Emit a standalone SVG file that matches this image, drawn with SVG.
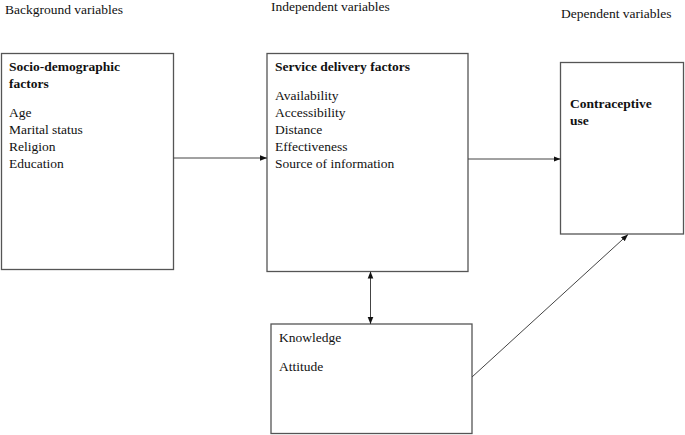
<svg xmlns="http://www.w3.org/2000/svg" width="685" height="435" viewBox="0 0 685 435">
<style>
text{font-family:"Liberation Serif","Times New Roman",serif;font-size:13.5px;fill:#111}
.b{font-weight:bold}
.box{fill:#fff;stroke:#555;stroke-width:1.3}
.ln{stroke:#444;stroke-width:1;fill:none}
</style>
<defs>
<marker id="ah" viewBox="0 0 10 10" refX="10" refY="5" markerWidth="7" markerHeight="7" orient="auto-start-reverse" markerUnits="userSpaceOnUse">
<path d="M0,1 L10,5 L0,9 Z" fill="#111"/>
</marker>
</defs>
<rect width="685" height="435" fill="#fff"/>
<g id="headers">
<text x="5" y="14">Background variables</text>
<text x="271" y="11">Independent variables</text>
<text x="561" y="18">Dependent variables</text>
</g>
<g id="socio">
<rect class="box" x="1.5" y="53.5" width="172" height="216"/>
<text class="b" x="9" y="71">Socio-demographic</text>
<text class="b" x="9" y="88">factors</text>
<text x="9" y="117">Age</text>
<text x="9" y="134">Marital status</text>
<text x="9" y="151">Religion</text>
<text x="9" y="168">Education</text>
</g>
<g id="service">
<rect class="box" x="267" y="53.5" width="201" height="218"/>
<text class="b" x="275" y="71">Service delivery factors</text>
<text x="275" y="100">Availability</text>
<text x="275" y="117">Accessibility</text>
<text x="275" y="134">Distance</text>
<text x="275" y="151">Effectiveness</text>
<text x="275" y="168">Source of information</text>
</g>
<g id="contraceptive">
<rect class="box" x="560.5" y="62.5" width="123" height="171.5"/>
<text class="b" x="570" y="108">Contraceptive</text>
<text class="b" x="570" y="125">use</text>
</g>
<g id="knowledge">
<rect class="box" x="271" y="324" width="201" height="109.5"/>
<text x="279" y="342">Knowledge</text>
<text x="279" y="371">Attitude</text>
</g>
<g id="connectors">
<line class="ln" x1="173.5" y1="158" x2="267" y2="158" marker-end="url(#ah)"/>
<line class="ln" x1="468" y1="159" x2="560.5" y2="159" marker-end="url(#ah)"/>
<line class="ln" x1="370.5" y1="271.5" x2="370.5" y2="324" marker-start="url(#ah)" marker-end="url(#ah)"/>
<line class="ln" x1="472" y1="377" x2="628" y2="234.5" marker-end="url(#ah)"/>
</g>
</svg>
